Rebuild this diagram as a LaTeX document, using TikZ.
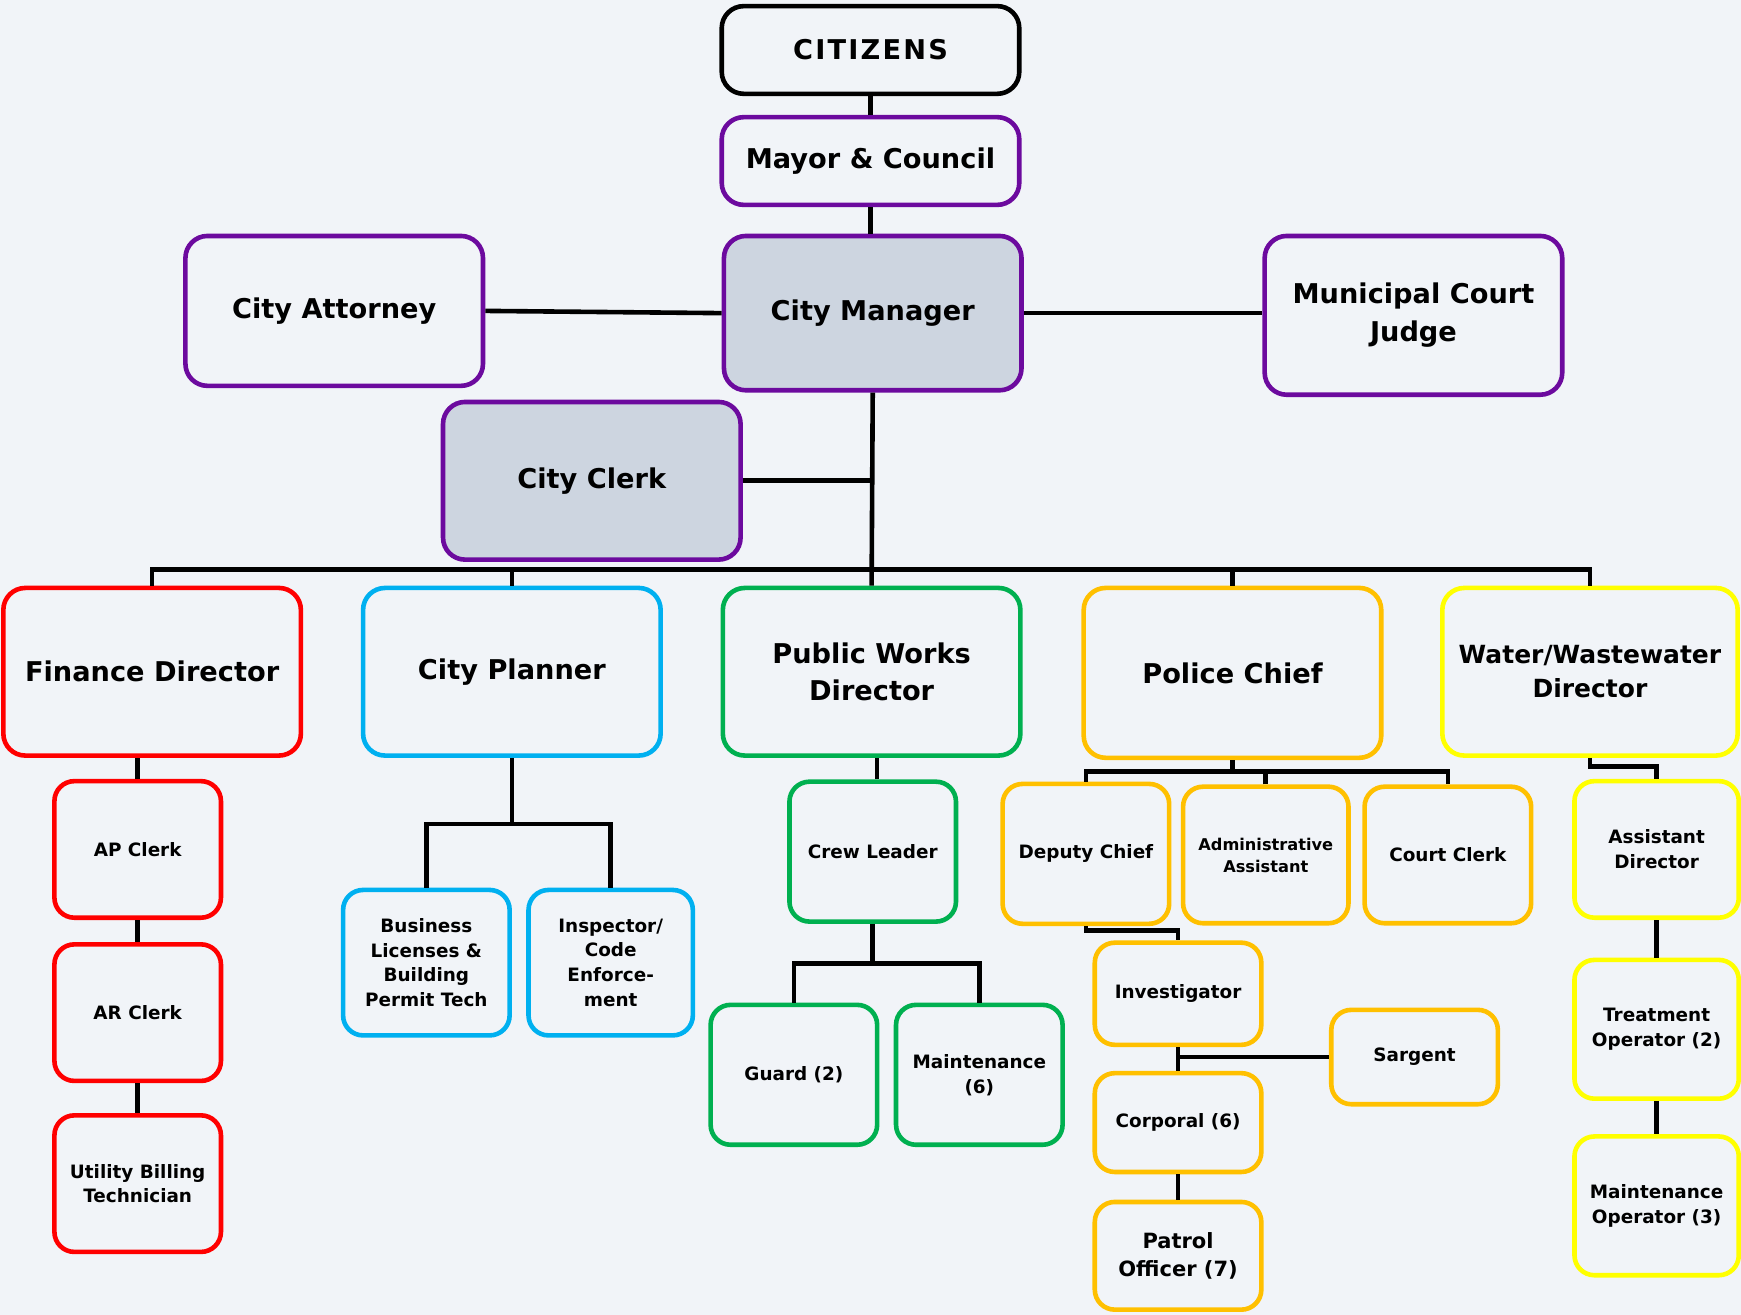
\documentclass[tikz,border=0pt]{standalone}
\usepackage{fontspec}
\setmainfont{DejaVu Sans}
\newfontfamily\citfont[LetterSpace=8]{DejaVu Sans}
\usetikzlibrary{calc}
\definecolor{bgc}{HTML}{F1F4F8}
\definecolor{fillc}{HTML}{CDD5E0}
\definecolor{purp}{HTML}{6C0A9E}
\definecolor{redc}{HTML}{FF0000}
\definecolor{bluec}{HTML}{00B0F0}
\definecolor{greenc}{HTML}{00B050}
\definecolor{orangec}{HTML}{FFC000}
\definecolor{yellowc}{HTML}{FFFF00}
\newcommand{\pxu}{0.555pt}
\begin{document}
\begin{tikzpicture}[x=0.555pt,y=-0.555pt,
  box/.style={draw, rounded corners=11pt, line width=2.3pt, fill=bgc, align=center, inner sep=0pt},
  sbox/.style={box, rounded corners=10pt},
  bigt/.style={font=\bfseries\fontsize{13.6}{18.9}\selectfont},
  midt/.style={font=\bfseries\fontsize{12.5}{16.7}\selectfont},
  smt/.style={font=\bfseries\fontsize{9.2}{12.4}\selectfont},
  tnyt/.style={font=\bfseries\fontsize{8.1}{11}\selectfont},
  sz/.style 2 args={minimum width=#1*\pxu, minimum height=#2*\pxu},
  conn/.style={line width=2.3pt, draw=black}]
\fill[bgc] (0,0) rectangle (1568,1184);
\useasboundingbox (0,0) rectangle (1568,1184);

% top
\node[box, draw=black, sz={268}{79}, font=\citfont\bfseries\fontsize{13.6}{18.9}\selectfont] (cit) at (784,45) {CITIZENS};
\node[box, draw=purp, sz={268}{79}, bigt] (may) at (784,145) {Mayor \& Council};
\node[box, draw=purp, sz={268}{135}, bigt] (ca) at (301,280) {City Attorney};
\node[box, draw=purp, fill=fillc, sz={268}{139}, bigt] (cm) at (786,282) {City Manager};
\node[box, draw=purp, sz={268}{143}, bigt] (mcj) at (1273,284) {Municipal Court\\Judge};
\node[box, draw=purp, fill=fillc, sz={268}{142}, bigt] (cc) at (533,433) {City Clerk};

% directors
\node[box, draw=redc, sz={268}{151}, bigt] (fin) at (137,605) {Finance Director};
\node[box, draw=bluec, sz={268}{151}, bigt] (cp) at (461,605) {City Planner};
\node[box, draw=greenc, sz={268}{151}, bigt] (pw) at (785,605) {Public Works\\Director};
\node[box, draw=orangec, sz={268}{153}, bigt] (pc) at (1110,606) {Police Chief};
\node[box, draw=yellowc, sz={266}{151}, midt] (wat) at (1432,605) {Water/Wastewater\\Director};

% finance
\node[sbox, draw=redc, sz={150}{123}, smt] (ap) at (124,765) {AP Clerk};
\node[sbox, draw=redc, sz={150}{123}, smt] (ar) at (124,912) {AR Clerk};
\node[sbox, draw=redc, sz={150}{123}, smt] (ub) at (124,1066) {Utility Billing\\Technician};

% planner
\node[sbox, draw=bluec, sz={150}{131}, smt] (bl) at (384,867) {Business\\Licenses \&\\Building\\Permit Tech};
\node[sbox, draw=bluec, sz={148}{131}, smt] (ins) at (550,867) {Inspector/\\Code\\Enforce-\\ment};

% public works
\node[sbox, draw=greenc, sz={150}{126}, smt] (cl) at (786,767) {Crew Leader};
\node[sbox, draw=greenc, sz={150}{126}, smt] (gu) at (715,968) {Guard (2)};
\node[sbox, draw=greenc, sz={150}{126}, smt] (mt) at (882,968) {Maintenance\\(6)};

% police
\node[sbox, draw=orangec, sz={150}{126}, smt] (dc) at (978,769) {Deputy Chief};
\node[sbox, draw=orangec, sz={149}{123}, tnyt] (aa) at (1140,770) {Administrative\\Assistant};
\node[sbox, draw=orangec, sz={150}{123}, smt] (cclk) at (1304,770) {Court Clerk};
\node[sbox, draw=orangec, sz={150}{92}, smt] (inv) at (1061,895) {Investigator};
\node[sbox, draw=orangec, sz={150}{85}, smt] (sg) at (1274,952) {Sargent};
\node[sbox, draw=orangec, sz={150}{89}, smt] (corp) at (1061,1011) {Corporal (6)};
\node[sbox, draw=orangec, sz={150}{97}, font=\bfseries\fontsize{10.5}{14.3}\selectfont] (po) at (1061,1131) {Patrol\\Officer (7)};

% water
\node[sbox, draw=yellowc, sz={148}{123}, smt] (ad) at (1492,765) {Assistant\\Director};
\node[sbox, draw=yellowc, sz={148}{125}, smt] (tr) at (1492,927) {Treatment\\Operator (2)};
\node[sbox, draw=yellowc, sz={148}{125}, smt] (mo) at (1492,1086) {Maintenance\\Operator (3)};

% coordinates
\coordinate (bus) at (786,513);
\coordinate (plj) at (461,742);
\coordinate (crj) at (786,868);
\coordinate (pcj) at (1110,695);

% connectors
\draw[conn] (cit.south) -- (may.north);
\draw[conn] (may.south) -- (may.south |- cm.north);
\draw[conn] (ca.east) -- (cm.west);
\draw[conn] (cm.east) -- (cm.east -| mcj.west);
\draw[conn] (cm.south) -- (pw.north);
\draw[conn] (cc.east) -- (cc.east -| cm.south);
\draw[conn] (fin.north) |- (bus) -| (wat.north);
\draw[conn] (cp.north) -- (cp.north |- bus);
\draw[conn] (pc.north) -- (pc.north |- bus);

\draw[conn] (ap.north) -- (ap.north |- fin.south);
\draw[conn] (ap.south) -- (ar.north);
\draw[conn] (ar.south) -- (ub.north);

\draw[conn] (cp.south) -- (plj);
\draw[conn] (bl.north) |- (plj) -| (ins.north);

\draw[conn] ($(cl.north)+(4,0)$) -- ($(cl.north |- pw.south)+(4,0)$);
\draw[conn] (cl.south) -- (crj);
\draw[conn] (gu.north) |- (crj) -| (mt.north);

\draw[conn] (pc.south) -- (pcj);
\draw[conn] (dc.north) |- (pcj) -| (cclk.north);
\draw[conn] (aa.north) -- (aa.north |- pcj);
\draw[conn] (dc.south) |- ($(inv.north)+(0,-9)$) -- (inv.north);
\draw[conn] (inv.south) -- (corp.north);
\draw[conn] (sg.west) -- (sg.west -| inv.south);
\draw[conn] (corp.south) -- (po.north);

\draw[conn] (wat.south) |- ($(ad.north)+(0,-11)$) -- (ad.north);
\draw[conn] (ad.south) -- (tr.north);
\draw[conn] (tr.south) -- (mo.north);
\end{tikzpicture}
\end{document}
